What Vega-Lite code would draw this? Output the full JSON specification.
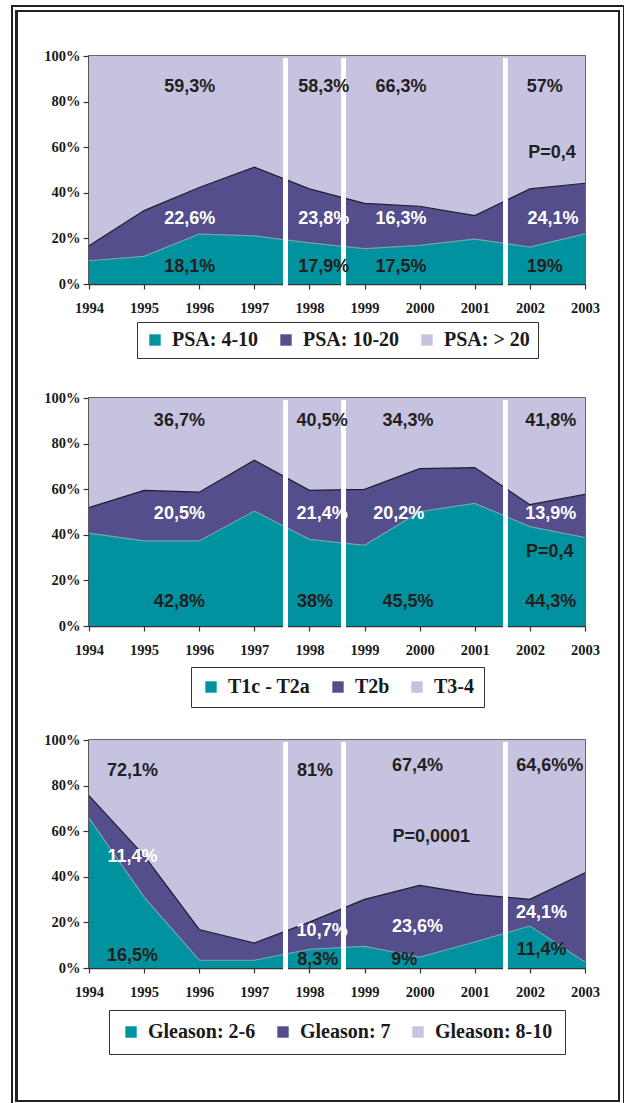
{
  "$schema": "https://vega.github.io/schema/vega-lite/v6.json",
  "background": "white",
  "padding": {"left": 10, "top": 4, "right": 0, "bottom": 0},
  "autosize": {"type": "pad"},
  "bounds": "flush",
  "spacing": 114,
  "config": {
    "view": {"stroke": "#333", "strokeWidth": 1.5},
    "axis": {"labelFont": "Liberation Serif", "labelFontWeight": "bold", "labelFontSize": 14.5, "labelColor": "#1a1a1a", "domainColor": "#333", "domainWidth": 1.5, "tickColor": "#333", "tickWidth": 1.2, "grid": false, "zindex": 1, "labelFlush": false, "labelOverlap": false},
    "axisX": {"tickSize": 5, "labelPadding": 12},
    "axisY": {"tickSize": 6, "labelPadding": 3},
    "legend": {"orient": "bottom", "direction": "horizontal", "strokeColor": "#333", "padding": 9, "labelFont": "Liberation Serif", "labelFontWeight": "bold", "labelFontSize": 20, "labelColor": "#1a1a1a", "symbolType": "square", "symbolSize": 130, "symbolStrokeWidth": 0, "symbolOpacity": 1, "columnPadding": 17, "labelOffset": 7, "offset": 10, "layout": {"bottom": {"anchor": "middle"}}}
  },
  "resolve": {"scale": {"color": "independent", "stroke": "independent"}, "legend": {"color": "independent"}},
  "datasets": {
    "psa": [
      {"year": 1994, "series": "PSA: 4-10", "k": 1, "pct": 10.2}, {"year": 1994, "series": "PSA: 10-20", "k": 2, "pct": 6.6}, {"year": 1994, "series": "PSA: > 20", "k": 3, "pct": 83.2},
      {"year": 1995, "series": "PSA: 4-10", "k": 1, "pct": 12.1}, {"year": 1995, "series": "PSA: 10-20", "k": 2, "pct": 20.1}, {"year": 1995, "series": "PSA: > 20", "k": 3, "pct": 67.8},
      {"year": 1996, "series": "PSA: 4-10", "k": 1, "pct": 21.9}, {"year": 1996, "series": "PSA: 10-20", "k": 2, "pct": 20.4}, {"year": 1996, "series": "PSA: > 20", "k": 3, "pct": 57.7},
      {"year": 1997, "series": "PSA: 4-10", "k": 1, "pct": 21.1}, {"year": 1997, "series": "PSA: 10-20", "k": 2, "pct": 30.1}, {"year": 1997, "series": "PSA: > 20", "k": 3, "pct": 48.8},
      {"year": 1998, "series": "PSA: 4-10", "k": 1, "pct": 18.0}, {"year": 1998, "series": "PSA: 10-20", "k": 2, "pct": 23.7}, {"year": 1998, "series": "PSA: > 20", "k": 3, "pct": 58.3},
      {"year": 1999, "series": "PSA: 4-10", "k": 1, "pct": 15.5}, {"year": 1999, "series": "PSA: 10-20", "k": 2, "pct": 19.9}, {"year": 1999, "series": "PSA: > 20", "k": 3, "pct": 64.6},
      {"year": 2000, "series": "PSA: 4-10", "k": 1, "pct": 16.9}, {"year": 2000, "series": "PSA: 10-20", "k": 2, "pct": 17.2}, {"year": 2000, "series": "PSA: > 20", "k": 3, "pct": 65.9},
      {"year": 2001, "series": "PSA: 4-10", "k": 1, "pct": 19.7}, {"year": 2001, "series": "PSA: 10-20", "k": 2, "pct": 10.3}, {"year": 2001, "series": "PSA: > 20", "k": 3, "pct": 70.0},
      {"year": 2002, "series": "PSA: 4-10", "k": 1, "pct": 16.2}, {"year": 2002, "series": "PSA: 10-20", "k": 2, "pct": 25.5}, {"year": 2002, "series": "PSA: > 20", "k": 3, "pct": 58.3},
      {"year": 2003, "series": "PSA: 4-10", "k": 1, "pct": 22.0}, {"year": 2003, "series": "PSA: 10-20", "k": 2, "pct": 22.2}, {"year": 2003, "series": "PSA: > 20", "k": 3, "pct": 55.8}
    ],
    "stage": [
      {"year": 1994, "series": "T1c - T2a", "k": 1, "pct": 40.7}, {"year": 1994, "series": "T2b", "k": 2, "pct": 11.2}, {"year": 1994, "series": "T3-4", "k": 3, "pct": 48.1},
      {"year": 1995, "series": "T1c - T2a", "k": 1, "pct": 37.3}, {"year": 1995, "series": "T2b", "k": 2, "pct": 22.2}, {"year": 1995, "series": "T3-4", "k": 3, "pct": 40.5},
      {"year": 1996, "series": "T1c - T2a", "k": 1, "pct": 37.3}, {"year": 1996, "series": "T2b", "k": 2, "pct": 21.4}, {"year": 1996, "series": "T3-4", "k": 3, "pct": 41.3},
      {"year": 1997, "series": "T1c - T2a", "k": 1, "pct": 50.4}, {"year": 1997, "series": "T2b", "k": 2, "pct": 22.3}, {"year": 1997, "series": "T3-4", "k": 3, "pct": 27.3},
      {"year": 1998, "series": "T1c - T2a", "k": 1, "pct": 38.0}, {"year": 1998, "series": "T2b", "k": 2, "pct": 21.5}, {"year": 1998, "series": "T3-4", "k": 3, "pct": 40.5},
      {"year": 1999, "series": "T1c - T2a", "k": 1, "pct": 35.4}, {"year": 1999, "series": "T2b", "k": 2, "pct": 24.5}, {"year": 1999, "series": "T3-4", "k": 3, "pct": 40.1},
      {"year": 2000, "series": "T1c - T2a", "k": 1, "pct": 50.1}, {"year": 2000, "series": "T2b", "k": 2, "pct": 18.9}, {"year": 2000, "series": "T3-4", "k": 3, "pct": 31.0},
      {"year": 2001, "series": "T1c - T2a", "k": 1, "pct": 53.8}, {"year": 2001, "series": "T2b", "k": 2, "pct": 15.7}, {"year": 2001, "series": "T3-4", "k": 3, "pct": 30.5},
      {"year": 2002, "series": "T1c - T2a", "k": 1, "pct": 43.6}, {"year": 2002, "series": "T2b", "k": 2, "pct": 9.6}, {"year": 2002, "series": "T3-4", "k": 3, "pct": 46.8},
      {"year": 2003, "series": "T1c - T2a", "k": 1, "pct": 38.8}, {"year": 2003, "series": "T2b", "k": 2, "pct": 18.9}, {"year": 2003, "series": "T3-4", "k": 3, "pct": 42.3}
    ],
    "gleason": [
      {"year": 1994, "series": "Gleason: 2-6", "k": 1, "pct": 65.7}, {"year": 1994, "series": "Gleason: 7", "k": 2, "pct": 9.9}, {"year": 1994, "series": "Gleason: 8-10", "k": 3, "pct": 24.4},
      {"year": 1995, "series": "Gleason: 2-6", "k": 1, "pct": 31.1}, {"year": 1995, "series": "Gleason: 7", "k": 2, "pct": 18.2}, {"year": 1995, "series": "Gleason: 8-10", "k": 3, "pct": 50.7},
      {"year": 1996, "series": "Gleason: 2-6", "k": 1, "pct": 3.4}, {"year": 1996, "series": "Gleason: 7", "k": 2, "pct": 13.5}, {"year": 1996, "series": "Gleason: 8-10", "k": 3, "pct": 83.1},
      {"year": 1997, "series": "Gleason: 2-6", "k": 1, "pct": 3.4}, {"year": 1997, "series": "Gleason: 7", "k": 2, "pct": 7.5}, {"year": 1997, "series": "Gleason: 8-10", "k": 3, "pct": 89.1},
      {"year": 1998, "series": "Gleason: 2-6", "k": 1, "pct": 8.2}, {"year": 1998, "series": "Gleason: 7", "k": 2, "pct": 11.9}, {"year": 1998, "series": "Gleason: 8-10", "k": 3, "pct": 79.9},
      {"year": 1999, "series": "Gleason: 2-6", "k": 1, "pct": 9.5}, {"year": 1999, "series": "Gleason: 7", "k": 2, "pct": 20.6}, {"year": 1999, "series": "Gleason: 8-10", "k": 3, "pct": 69.9},
      {"year": 2000, "series": "Gleason: 2-6", "k": 1, "pct": 4.8}, {"year": 2000, "series": "Gleason: 7", "k": 2, "pct": 31.4}, {"year": 2000, "series": "Gleason: 8-10", "k": 3, "pct": 63.8},
      {"year": 2001, "series": "Gleason: 2-6", "k": 1, "pct": 11.4}, {"year": 2001, "series": "Gleason: 7", "k": 2, "pct": 20.9}, {"year": 2001, "series": "Gleason: 8-10", "k": 3, "pct": 67.7},
      {"year": 2002, "series": "Gleason: 2-6", "k": 1, "pct": 18.4}, {"year": 2002, "series": "Gleason: 7", "k": 2, "pct": 11.7}, {"year": 2002, "series": "Gleason: 8-10", "k": 3, "pct": 69.9},
      {"year": 2003, "series": "Gleason: 2-6", "k": 1, "pct": 2.6}, {"year": 2003, "series": "Gleason: 7", "k": 2, "pct": 39.2}, {"year": 2003, "series": "Gleason: 8-10", "k": 3, "pct": 58.2}
    ],
    "psaLab": [
      {"year": 1995.83, "v": 0.864, "label": "59,3%", "series": "PSA: > 20"},
      {"year": 1998.26, "v": 0.864, "label": "58,3%", "series": "PSA: > 20"},
      {"year": 1999.66, "v": 0.864, "label": "66,3%", "series": "PSA: > 20"},
      {"year": 2002.27, "v": 0.864, "label": "57%", "series": "PSA: > 20"},
      {"year": 2002.4, "v": 0.575, "label": "P=0,4", "series": ""},
      {"year": 1995.83, "v": 0.285, "label": "22,6%", "series": "PSA: 10-20"},
      {"year": 1998.26, "v": 0.285, "label": "23,8%", "series": "PSA: 10-20"},
      {"year": 1999.66, "v": 0.285, "label": "16,3%", "series": "PSA: 10-20"},
      {"year": 2002.42, "v": 0.285, "label": "24,1%", "series": "PSA: 10-20"},
      {"year": 1995.83, "v": 0.075, "label": "18,1%", "series": "PSA: 4-10"},
      {"year": 1998.26, "v": 0.075, "label": "17,9%", "series": "PSA: 4-10"},
      {"year": 1999.66, "v": 0.075, "label": "17,5%", "series": "PSA: 4-10"},
      {"year": 2002.27, "v": 0.075, "label": "19%", "series": "PSA: 4-10"}
    ],
    "stageLab": [
      {"year": 1995.64, "v": 0.899, "label": "36,7%", "series": "T3-4"},
      {"year": 1998.23, "v": 0.899, "label": "40,5%", "series": "T3-4"},
      {"year": 1999.79, "v": 0.899, "label": "34,3%", "series": "T3-4"},
      {"year": 2002.38, "v": 0.899, "label": "41,8%", "series": "T3-4"},
      {"year": 1995.64, "v": 0.49, "label": "20,5%", "series": "T2b"},
      {"year": 1998.23, "v": 0.49, "label": "21,4%", "series": "T2b"},
      {"year": 1999.62, "v": 0.49, "label": "20,2%", "series": "T2b"},
      {"year": 2002.38, "v": 0.49, "label": "13,9%", "series": "T2b"},
      {"year": 2002.36, "v": 0.325, "label": "P=0,4", "series": ""},
      {"year": 1995.64, "v": 0.107, "label": "42,8%", "series": "T1c - T2a"},
      {"year": 1998.1, "v": 0.107, "label": "38%", "series": "T1c - T2a"},
      {"year": 1999.79, "v": 0.107, "label": "45,5%", "series": "T1c - T2a"},
      {"year": 2002.38, "v": 0.107, "label": "44,3%", "series": "T1c - T2a"}
    ],
    "gleasonLab": [
      {"year": 1994.79, "v": 0.866, "label": "72,1%", "series": "Gleason: 8-10"},
      {"year": 1998.1, "v": 0.866, "label": "81%", "series": "Gleason: 8-10"},
      {"year": 1999.96, "v": 0.887, "label": "67,4%", "series": "Gleason: 8-10"},
      {"year": 2002.36, "v": 0.887, "label": "64,6%%", "series": "Gleason: 8-10"},
      {"year": 2000.21, "v": 0.574, "label": "P=0,0001", "series": ""},
      {"year": 1994.79, "v": 0.489, "label": "11,4%", "series": "Gleason: 7"},
      {"year": 1998.23, "v": 0.161, "label": "10,7%", "series": "Gleason: 7"},
      {"year": 1999.96, "v": 0.18, "label": "23,6%", "series": "Gleason: 7"},
      {"year": 2002.21, "v": 0.241, "label": "24,1%", "series": "Gleason: 7"},
      {"year": 1994.79, "v": 0.051, "label": "16,5%", "series": "Gleason: 2-6"},
      {"year": 1998.15, "v": 0.037, "label": "8,3%", "series": "Gleason: 2-6"},
      {"year": 1999.72, "v": 0.037, "label": "9%", "series": "Gleason: 2-6"},
      {"year": 2002.21, "v": 0.077, "label": "11,4%", "series": "Gleason: 2-6"}
    ]
  },
  "vconcat": [
    {
      "width": 496, "height": 228,
      "data": {"name": "psa"},
      "layer": [
        {
          "transform": [{"stack": "pct", "groupby": ["year"], "sort": [{"field": "k", "order": "ascending"}], "offset": "normalize", "as": ["lo", "hi"]}],
          "mark": {"type": "area", "opacity": 1},
          "encoding": {
            "x": {"field": "year", "type": "quantitative", "title": null, "scale": {"domain": [1994, 2003], "nice": false, "zero": false}, "axis": {"title": null, "values": [1994, 1995, 1996, 1997, 1998, 1999, 2000, 2001, 2002, 2003], "format": "d"}},
            "y": {"field": "hi", "type": "quantitative", "title": null, "scale": {"domain": [0, 1], "nice": false}, "axis": {"title": null, "values": [0, 0.2, 0.4, 0.6, 0.8, 1], "format": ".0%"}},
            "y2": {"field": "lo"},
            "color": {"field": "series", "type": "nominal", "scale": {"domain": ["PSA: 4-10", "PSA: 10-20", "PSA: > 20"], "range": ["#00929f", "#554e8c", "#c6c3e1"]}, "legend": {"title": null, "padding": 8, "offset": 7}}
          }
        },
        {
          "transform": [{"stack": "pct", "groupby": ["year"], "sort": [{"field": "k", "order": "ascending"}], "offset": "normalize", "as": ["lo", "hi"]}],
          "mark": {"type": "line", "strokeWidth": 1.2},
          "encoding": {
            "x": {"field": "year", "type": "quantitative", "title": null},
            "y": {"field": "hi", "type": "quantitative", "title": null},
            "stroke": {"field": "series", "type": "nominal", "scale": {"domain": ["PSA: 4-10", "PSA: 10-20", "PSA: > 20"], "range": ["#6fa3ad", "#1c1c2a", "rgba(0,0,0,0)"]}, "legend": null}
          }
        },
        {"mark": {"type": "rule", "color": "white", "strokeWidth": 4}, "encoding": {"x": {"datum": 1997.57}, "y": {"datum": 0.99}, "y2": {"datum": -0.005}}},
        {"mark": {"type": "rule", "color": "white", "strokeWidth": 4}, "encoding": {"x": {"datum": 1998.62}, "y": {"datum": 0.99}, "y2": {"datum": -0.005}}},
        {"mark": {"type": "rule", "color": "white", "strokeWidth": 4}, "encoding": {"x": {"datum": 2001.55}, "y": {"datum": 0.99}, "y2": {"datum": -0.005}}},
        {"mark": {"type": "rect", "filled": false, "color": "#222", "strokeWidth": 1.5}, "encoding": {"x": {"datum": 1992.603}, "x2": {"datum": 2003.708}, "y": {"datum": 1.219}, "y2": {"datum": -3.601}}},
        {"mark": {"type": "rect", "filled": false, "color": "#222", "strokeWidth": 2}, "encoding": {"x": {"datum": 1992.685}, "x2": {"datum": 2003.617}, "y": {"datum": 1.197}, "y2": {"datum": -3.583}}},
        {
          "data": {"name": "psaLab"},
          "transform": [{"filter": "datum.series !== 'PSA: 10-20'"}],
          "mark": {"type": "text", "font": "Liberation Sans", "fontWeight": "bold", "fontSize": 18, "color": "#231f20", "baseline": "middle", "align": "center"},
          "encoding": {"x": {"field": "year", "type": "quantitative", "title": null}, "y": {"field": "v", "type": "quantitative", "title": null}, "text": {"field": "label"}}
        },
        {
          "data": {"name": "psaLab"},
          "transform": [{"filter": "datum.series === 'PSA: 10-20'"}],
          "mark": {"type": "text", "font": "Liberation Sans", "fontWeight": "bold", "fontSize": 18, "color": "white", "baseline": "middle", "align": "center"},
          "encoding": {"x": {"field": "year", "type": "quantitative", "title": null}, "y": {"field": "v", "type": "quantitative", "title": null}, "text": {"field": "label"}}
        }
      ]
    },
    {
      "width": 496, "height": 228,
      "data": {"name": "stage"},
      "layer": [
        {
          "transform": [{"stack": "pct", "groupby": ["year"], "sort": [{"field": "k", "order": "ascending"}], "offset": "normalize", "as": ["lo", "hi"]}],
          "mark": {"type": "area", "opacity": 1},
          "encoding": {
            "x": {"field": "year", "type": "quantitative", "title": null, "scale": {"domain": [1994, 2003], "nice": false, "zero": false}, "axis": {"title": null, "values": [1994, 1995, 1996, 1997, 1998, 1999, 2000, 2001, 2002, 2003], "format": "d"}},
            "y": {"field": "hi", "type": "quantitative", "title": null, "scale": {"domain": [0, 1], "nice": false}, "axis": {"title": null, "values": [0, 0.2, 0.4, 0.6, 0.8, 1], "format": ".0%"}},
            "y2": {"field": "lo"},
            "color": {"field": "series", "type": "nominal", "scale": {"domain": ["T1c - T2a", "T2b", "T3-4"], "range": ["#00929f", "#554e8c", "#c6c3e1"]}, "legend": {"title": null, "padding": 10, "offset": 10}}
          }
        },
        {
          "transform": [{"stack": "pct", "groupby": ["year"], "sort": [{"field": "k", "order": "ascending"}], "offset": "normalize", "as": ["lo", "hi"]}],
          "mark": {"type": "line", "strokeWidth": 1.2},
          "encoding": {
            "x": {"field": "year", "type": "quantitative", "title": null},
            "y": {"field": "hi", "type": "quantitative", "title": null},
            "stroke": {"field": "series", "type": "nominal", "scale": {"domain": ["T1c - T2a", "T2b", "T3-4"], "range": ["#6fa3ad", "#1c1c2a", "rgba(0,0,0,0)"]}, "legend": null}
          }
        },
        {"mark": {"type": "rule", "color": "white", "strokeWidth": 4}, "encoding": {"x": {"datum": 1997.57}, "y": {"datum": 0.99}, "y2": {"datum": -0.005}}},
        {"mark": {"type": "rule", "color": "white", "strokeWidth": 4}, "encoding": {"x": {"datum": 1998.62}, "y": {"datum": 0.99}, "y2": {"datum": -0.005}}},
        {"mark": {"type": "rule", "color": "white", "strokeWidth": 4}, "encoding": {"x": {"datum": 2001.55}, "y": {"datum": 0.99}, "y2": {"datum": -0.005}}},
        {
          "data": {"name": "stageLab"},
          "transform": [{"filter": "datum.series !== 'T2b'"}],
          "mark": {"type": "text", "font": "Liberation Sans", "fontWeight": "bold", "fontSize": 18, "color": "#231f20", "baseline": "middle", "align": "center"},
          "encoding": {"x": {"field": "year", "type": "quantitative", "title": null}, "y": {"field": "v", "type": "quantitative", "title": null}, "text": {"field": "label"}}
        },
        {
          "data": {"name": "stageLab"},
          "transform": [{"filter": "datum.series === 'T2b'"}],
          "mark": {"type": "text", "font": "Liberation Sans", "fontWeight": "bold", "fontSize": 18, "color": "white", "baseline": "middle", "align": "center"},
          "encoding": {"x": {"field": "year", "type": "quantitative", "title": null}, "y": {"field": "v", "type": "quantitative", "title": null}, "text": {"field": "label"}}
        }
      ]
    },
    {
      "width": 496, "height": 228,
      "data": {"name": "gleason"},
      "layer": [
        {
          "transform": [{"stack": "pct", "groupby": ["year"], "sort": [{"field": "k", "order": "ascending"}], "offset": "normalize", "as": ["lo", "hi"]}],
          "mark": {"type": "area", "opacity": 1},
          "encoding": {
            "x": {"field": "year", "type": "quantitative", "title": null, "scale": {"domain": [1994, 2003], "nice": false, "zero": false}, "axis": {"title": null, "values": [1994, 1995, 1996, 1997, 1998, 1999, 2000, 2001, 2002, 2003], "format": "d"}},
            "y": {"field": "hi", "type": "quantitative", "title": null, "scale": {"domain": [0, 1], "nice": false}, "axis": {"title": null, "values": [0, 0.2, 0.4, 0.6, 0.8, 1], "format": ".0%"}},
            "y2": {"field": "lo"},
            "color": {"field": "series", "type": "nominal", "scale": {"domain": ["Gleason: 2-6", "Gleason: 7", "Gleason: 8-10"], "range": ["#00929f", "#554e8c", "#c6c3e1"]}, "legend": {"title": null, "padding": 12, "offset": 11}}
          }
        },
        {
          "transform": [{"stack": "pct", "groupby": ["year"], "sort": [{"field": "k", "order": "ascending"}], "offset": "normalize", "as": ["lo", "hi"]}],
          "mark": {"type": "line", "strokeWidth": 1.2},
          "encoding": {
            "x": {"field": "year", "type": "quantitative", "title": null},
            "y": {"field": "hi", "type": "quantitative", "title": null},
            "stroke": {"field": "series", "type": "nominal", "scale": {"domain": ["Gleason: 2-6", "Gleason: 7", "Gleason: 8-10"], "range": ["#6fa3ad", "#1c1c2a", "rgba(0,0,0,0)"]}, "legend": null}
          }
        },
        {"mark": {"type": "rule", "color": "white", "strokeWidth": 4}, "encoding": {"x": {"datum": 1997.57}, "y": {"datum": 0.99}, "y2": {"datum": -0.005}}},
        {"mark": {"type": "rule", "color": "white", "strokeWidth": 4}, "encoding": {"x": {"datum": 1998.62}, "y": {"datum": 0.99}, "y2": {"datum": -0.005}}},
        {"mark": {"type": "rule", "color": "white", "strokeWidth": 4}, "encoding": {"x": {"datum": 2001.55}, "y": {"datum": 0.99}, "y2": {"datum": -0.005}}},
        {
          "data": {"name": "gleasonLab"},
          "transform": [{"filter": "datum.series !== 'Gleason: 7'"}],
          "mark": {"type": "text", "font": "Liberation Sans", "fontWeight": "bold", "fontSize": 18, "color": "#231f20", "baseline": "middle", "align": "center"},
          "encoding": {"x": {"field": "year", "type": "quantitative", "title": null}, "y": {"field": "v", "type": "quantitative", "title": null}, "text": {"field": "label"}}
        },
        {
          "data": {"name": "gleasonLab"},
          "transform": [{"filter": "datum.series === 'Gleason: 7'"}],
          "mark": {"type": "text", "font": "Liberation Sans", "fontWeight": "bold", "fontSize": 18, "color": "white", "baseline": "middle", "align": "center"},
          "encoding": {"x": {"field": "year", "type": "quantitative", "title": null}, "y": {"field": "v", "type": "quantitative", "title": null}, "text": {"field": "label"}}
        }
      ]
    }
  ]
}
